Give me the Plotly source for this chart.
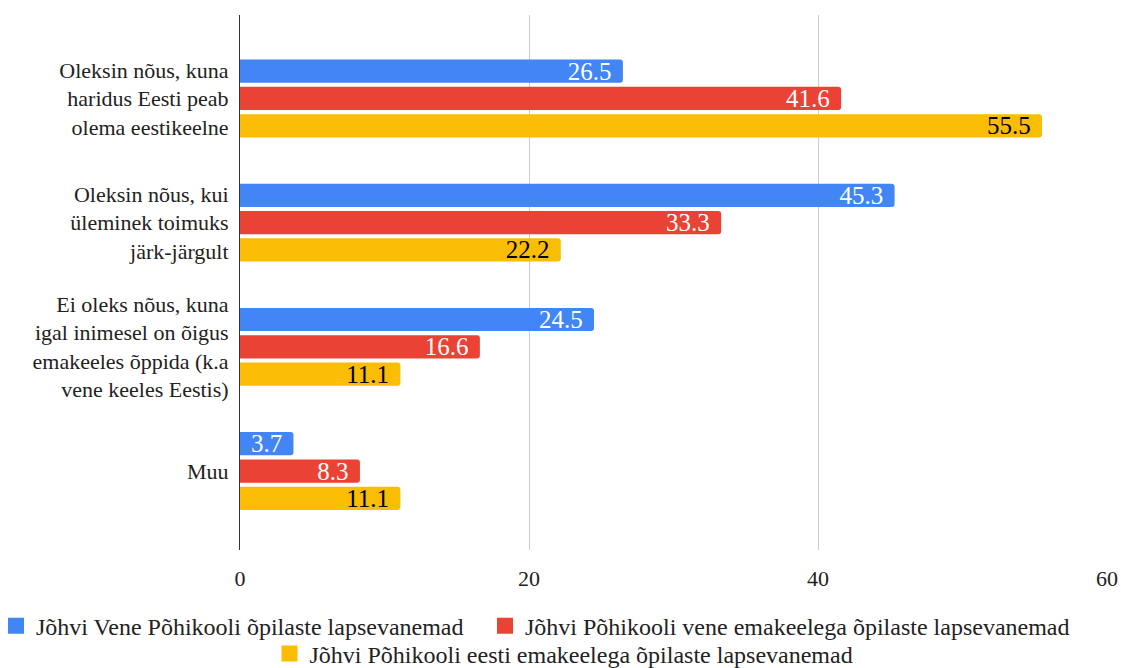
import plotly.graph_objects as go

categories = [
    "Oleksin nõus, kuna<br>haridus Eesti peab<br>olema eestikeelne",
    "Oleksin nõus, kui<br>üleminek toimuks<br>järk-järgult",
    "Ei oleks nõus, kuna<br>igal inimesel on õigus<br>emakeeles õppida (k.a<br>vene keeles Eestis)",
    "Muu",
]
series_names = [
    "Jõhvi Vene Põhikooli õpilaste lapsevanemad",
    "Jõhvi Põhikooli vene emakeelega õpilaste lapsevanemad",
    "Jõhvi Põhikooli eesti emakeelega õpilaste lapsevanemad",
]
values_vene = [26.5, 45.3, 24.5, 3.7]
values_pk_vene = [41.6, 33.3, 16.6, 8.3]
values_pk_eesti = [55.5, 22.2, 11.1, 11.1]
tick_vals = [0, 20, 40, 60]

colors = ["#4285F4", "#EA4335", "#FBBC04"]
text_colors = ["white", "white", "black"]
legend_ids = ["legend", "legend3", "legend2"]
FONT = '"Liberation Serif", "Times New Roman", Times, serif'
TXT = "#222222"

fig = go.Figure()
for name, vals, c, tc in zip(series_names, [values_vene, values_pk_vene, values_pk_eesti], colors, text_colors):
    fig.add_trace(go.Bar(
        y=categories, x=vals, name=name, orientation="h",
        marker=dict(color=c, cornerradius=3, line=dict(width=0)),
        text=[f"{v:.1f}\u00a0\u200a" for v in vals], textposition="inside",
        insidetextanchor="end", textangle=0,
        textfont=dict(family=FONT, size=25, color=tc),
        constraintext="none", showlegend=False,
        hoverinfo="skip",
    ))

# legend entries (square swatches)
for name, c, lg in zip(series_names, colors, legend_ids):
    fig.add_trace(go.Scatter(
        x=[None], y=[None], mode="markers", name=name, legend=lg,
        marker=dict(symbol="square", size=16, color=c), showlegend=True,
        hoverinfo="skip",
    ))

W, H = 1121, 668
leg_font = dict(family=FONT, size=24, color=TXT)
CLEAR = "rgba(0,0,0,0)"
fig.update_layout(
    width=W, height=H,
    margin=dict(l=240, r=14, t=15, b=118, autoexpand=False),
    paper_bgcolor="white", plot_bgcolor="white",
    barmode="group", bargap=0.34, bargroupgap=0.15,
    font=dict(family=FONT, size=22, color=TXT),
    legend=dict(
        orientation="h", x=-0.2814, xanchor="left", y=-0.1004, yanchor="top",
        font=leg_font, itemsizing="trace", bgcolor=CLEAR,
    ),
    legend3=dict(
        orientation="h", x=0.2826, xanchor="left", y=-0.1004, yanchor="top",
        font=leg_font, itemsizing="trace", bgcolor=CLEAR,
    ),
    legend2=dict(
        orientation="h", x=0.3737, xanchor="center", y=-0.152, yanchor="top",
        font=leg_font, itemsizing="trace", bgcolor=CLEAR,
    ),
)
fig.update_xaxes(
    range=[0, 60], tickvals=tick_vals, showgrid=True, gridcolor="#CCCCCC", gridwidth=1,
    zeroline=False, showline=False, automargin=False,
    tickfont=dict(family=FONT, size=22, color=TXT), ticklabelstandoff=13,
)
fig.update_yaxes(
    type="category", range=[3.636, -0.672], showgrid=False, showline=True,
    linecolor="#333333", linewidth=1, ticks="", ticklabelstandoff=6, automargin=False,
    tickfont=dict(family=FONT, size=22, color=TXT),
)

fig.write_html(
    "out.html",
    config={"displayModeBar": False},
    post_script="document.documentElement.style.overflow='hidden';"
                "document.body.style.margin='0';document.body.style.overflow='hidden';",
)
